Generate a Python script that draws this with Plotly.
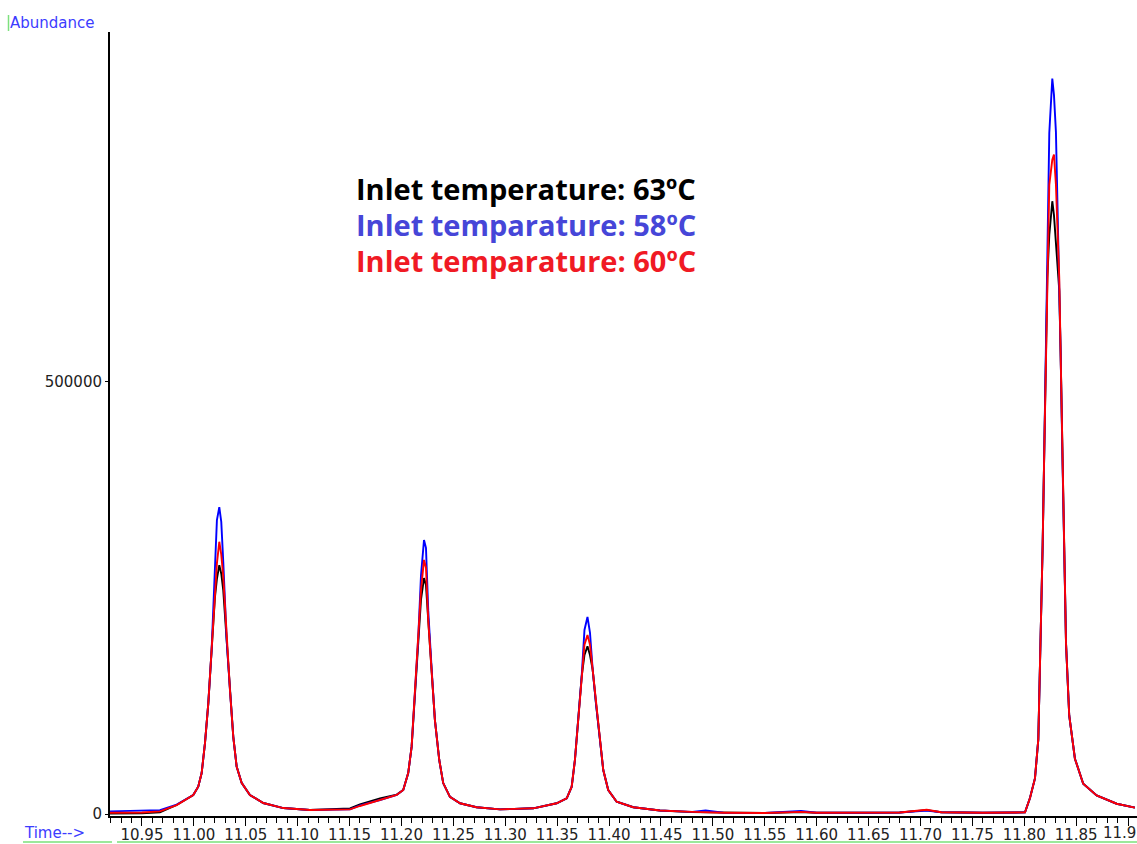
import plotly.graph_objects as go

# ---- data ----
time_min = [
    10.9192, 10.9500, 10.9673, 10.9834, 10.9994, 11.0042, 11.0075, 11.0107, 11.0139, 11.0171,
    11.0203, 11.0222, 11.0245, 11.0264, 11.0283, 11.0316, 11.0348, 11.0380, 11.0412, 11.0460,
    11.0540, 11.0669, 11.0861, 11.1118, 11.1504, 11.1600, 11.1793, 11.1954, 11.2017, 11.2065,
    11.2098, 11.2130, 11.2162, 11.2188, 11.2217, 11.2236, 11.2258, 11.2291, 11.2322, 11.2364,
    11.2402, 11.2467, 11.2564, 11.2723, 11.2949, 11.3270, 11.3495, 11.3592, 11.3640, 11.3671,
    11.3703, 11.3736, 11.3763, 11.3792, 11.3816, 11.3842, 11.3874, 11.3906, 11.3944, 11.3992,
    11.4073, 11.4233, 11.4490, 11.4800, 11.4930, 11.5100, 11.5500, 11.5850, 11.6000, 11.6500,
    11.6800, 11.7060, 11.7200, 11.7600, 11.7900, 11.8007, 11.8055, 11.8103, 11.8135, 11.8158,
    11.8177, 11.8193, 11.8209, 11.8222, 11.8241, 11.8270, 11.8286, 11.8305, 11.8322, 11.8337,
    11.8350, 11.8366, 11.8382, 11.8402, 11.8433, 11.8488, 11.8568, 11.8697, 11.8890, 11.9066,
]

abund_63C = [
    500, 800, 2000, 10400, 22000, 31600, 47400, 82000, 128000, 190000,
    251000, 272000, 288000, 278000, 259000, 201000, 143000, 89000, 55000, 36000,
    22000, 12700, 6900, 4600, 6500, 11000, 18000, 22500, 27800, 47400,
    77900, 140000, 205000, 248000, 273000, 265000, 224000, 167000, 109000, 62500,
    35800, 19900, 12400, 7800, 5400, 6600, 12400, 18200, 31600, 62500,
    109000, 159000, 184000, 194000, 184000, 167000, 128000, 89000, 50900, 27800,
    14200, 7800, 4000, 2200, 2000, 1500, 1200, 2200, 1500, 1500,
    1800, 4500, 2000, 1500, 1500, 1900, 18600, 41200, 86000, 198000,
    311000, 423000, 535000, 620000, 670000, 709000, 693000, 664000, 635000, 606000,
    535000, 423000, 311000, 198000, 114000, 64000, 35000, 21500, 11900, 7400,
]

abund_58C = [
    3000, 3500, 4500, 10800, 22000, 31600, 47400, 82000, 128000, 190000,
    280000, 340000, 355000, 338000, 292000, 201000, 143000, 89000, 55000, 36000,
    22000, 12700, 6900, 4600, 5400, 10000, 16200, 22000, 27800, 47400,
    77900, 140000, 205000, 276000, 317000, 308000, 235000, 167000, 109000, 62500,
    35800, 19900, 12400, 7800, 5400, 6600, 12400, 18200, 31600, 62500,
    109000, 159000, 213000, 228000, 210000, 167000, 128000, 89000, 50900, 27800,
    14200, 7800, 4000, 2500, 4000, 1500, 1200, 3500, 1500, 1500,
    1800, 4000, 2000, 1500, 1500, 1900, 18600, 41200, 86000, 198000,
    311000, 423000, 535000, 620000, 788000, 851000, 832000, 789000, 704000, 620000,
    535000, 423000, 311000, 198000, 114000, 64000, 35000, 21500, 11900, 7400,
]

abund_60C = [
    1500, 1700, 3000, 10400, 22000, 31600, 47400, 82000, 128000, 190000,
    262000, 290000, 315000, 300000, 275000, 201000, 143000, 89000, 55000, 36000,
    22000, 12700, 6900, 4600, 5400, 9300, 16200, 22000, 27800, 47400,
    77900, 140000, 205000, 259000, 294000, 285000, 224000, 167000, 109000, 62500,
    35800, 19900, 12400, 7800, 5400, 6600, 12400, 18200, 31600, 62500,
    109000, 159000, 196000, 207000, 196000, 167000, 128000, 89000, 50900, 27800,
    14200, 7800, 4000, 2500, 2000, 1500, 1200, 2500, 1500, 1500,
    1800, 5000, 2000, 1500, 1500, 1900, 18600, 41200, 86000, 198000,
    311000, 423000, 535000, 620000, 728000, 757000, 763000, 728000, 681000, 620000,
    535000, 423000, 311000, 198000, 114000, 64000, 35000, 21500, 11900, 7400,
]

legend_lines = [
    ("Inlet temperature: 63ºC", "#000000"),
    ("Inlet temparature: 58ºC", "#4646d8"),
    ("Inlet temparature: 60ºC", "#f01a24"),
]

y_tick_vals = [0, 500000]
y_tick_text = ["0", "500000"]
last_x_tick_text = "11.9"   # the right-most time label, cut by the picture edge

# ---- layout geometry (pixels) ----
W, H = 1137, 844
ML, MR, MT, MB = 110, 0, 32, 28
PW, PH = W - ML - MR, H - MT - MB


def px(xp):
    return (xp - ML) / PW


def py(yp):
    return (H - MB - yp) / PH


AXFONT = "DejaVu Sans"

fig = go.Figure()
fig.add_trace(go.Scatter(x=time_min, y=abund_63C, mode="lines",
                         line=dict(color="#000000", width=1.9), name="63ºC"))
fig.add_trace(go.Scatter(x=time_min, y=abund_58C, mode="lines",
                         line=dict(color="#0000ff", width=1.9), name="58ºC"))
fig.add_trace(go.Scatter(x=time_min, y=abund_60C, mode="lines",
                         line=dict(color="#ff0000", width=1.9), name="60ºC"))

fig.update_xaxes(
    range=[10.9192, 11.9086], showgrid=False, zeroline=False,
    showline=True, linecolor="#000000", linewidth=2,
    tickmode="linear", tick0=10.95, dtick=0.05, tickformat=".2f",
    ticks="outside", ticklen=8, tickwidth=1.3, tickcolor="#000000",
    minor=dict(dtick=0.01, tick0=10.95, ticks="outside", ticklen=5,
               tickwidth=1.3, tickcolor="#000000", showgrid=False),
    tickfont=dict(family=AXFONT, size=15, color="#222222"),
    ticklabeloverflow="hide past div", ticklabelstandoff=-4,
)
fig.update_yaxes(
    range=[-2300, 904800], showgrid=False, zeroline=False,
    showline=True, linecolor="#000000", linewidth=2,
    tickvals=y_tick_vals, ticktext=y_tick_text,
    ticks="outside", ticklen=3, tickwidth=1, tickcolor="#000000",
    tickfont=dict(family=AXFONT, size=15, color="#222222"),
)

annotations = []
for i, (txt, col) in enumerate(legend_lines):
    annotations.append(dict(
        x=px(354), y=py(188 + 36 * i), xref="paper", yref="paper",
        xanchor="left", yanchor="middle", showarrow=False,
        text="<b>" + txt + "</b>",
        font=dict(family="Open Sans", size=29, color=col),
    ))
annotations.append(dict(
    x=px(8), y=py(23), xref="paper", yref="paper", xanchor="left", yanchor="middle",
    showarrow=False, text="Abundance", font=dict(family=AXFONT, size=15, color="#3c3cff"),
))
annotations.append(dict(
    x=px(23), y=py(833), xref="paper", yref="paper", xanchor="left", yanchor="middle",
    showarrow=False, text="Time-->", borderpad=0,
    font=dict(family=AXFONT, size=15, color="#3c3cff"),
))
annotations.append(dict(
    x=1.0, y=py(833), xref="paper", yref="paper", xanchor="right", yanchor="middle",
    showarrow=False, text=last_x_tick_text, borderpad=0,
    font=dict(family=AXFONT, size=15, color="#222222"),
))

shapes = [
    dict(type="line", xref="paper", yref="paper", x0=px(23), x1=px(112), y0=py(842), y1=py(842),
         line=dict(color="#9be89b", width=2)),
    dict(type="line", xref="paper", yref="paper", x0=px(117), x1=px(1137), y0=py(842), y1=py(842),
         line=dict(color="#9be89b", width=2)),
    dict(type="line", xref="paper", yref="paper", x0=px(8.5), x1=px(8.5), y0=py(15), y1=py(31),
         line=dict(color="#7ee07e", width=1.5)),
]

fig.update_layout(
    width=W, height=H, autosize=False,
    margin=dict(l=ML, r=MR, t=MT, b=MB, pad=0),
    plot_bgcolor="#ffffff", paper_bgcolor="#ffffff",
    showlegend=False, annotations=annotations, shapes=shapes,
)

post = (
    "document.documentElement.style.margin='0';"
    "document.body.style.margin='0';"
    "document.documentElement.style.overflow='hidden';"
    "document.body.style.overflow='hidden';"
)

fig.write_html("out.html", config={"displayModeBar": False}, post_script=post)
